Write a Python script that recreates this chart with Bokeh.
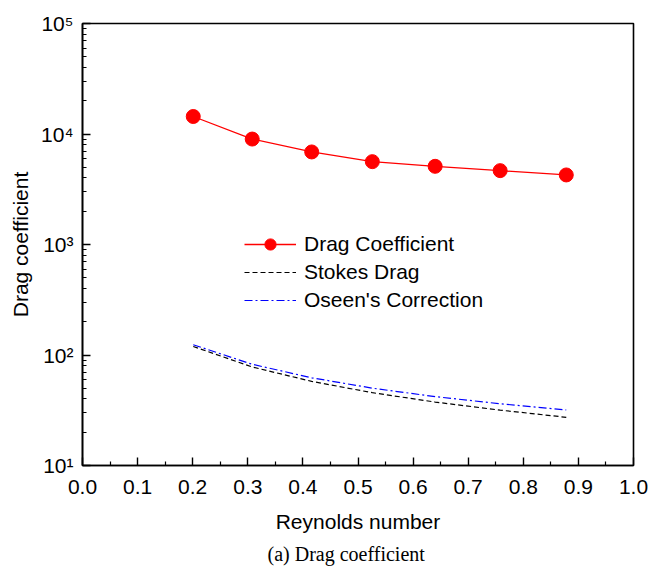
from bokeh.plotting import figure
from bokeh.models import (Range1d, FixedTicker, Legend, LegendItem, Title,
                          NumeralTickFormatter)
from bokeh.embed import file_html
from bokeh.resources import INLINE

# Reynolds numbers of the computed cases
reynolds = [0.201, 0.308, 0.416, 0.526, 0.640, 0.758, 0.878]
# Computed drag coefficient
drag_coeff = [14400, 9000, 6880, 5620, 5100, 4660, 4260]
# Stokes drag at the same Reynolds numbers
stokes = [119.4, 77.9, 57.7, 45.6, 37.5, 31.7, 27.3]
# Oseen's correction at the same Reynolds numbers
oseen = [123.9, 82.4, 62.2, 50.1, 42.0, 36.2, 31.8]

x_ticks = [0.0, 0.1, 0.2, 0.3, 0.4, 0.5, 0.6, 0.7, 0.8, 0.9, 1.0]
y_ticks = [10, 100, 1000, 10000, 100000]
y_tick_labels = ["10¹", "10²", "10³", "10⁴", "10⁵"]

FONT = "Liberation Sans"
FS = "21px"

p = figure(width=650, height=570, output_backend="svg", toolbar_location=None,
           y_axis_type="log",
           x_range=Range1d(0.0, 1.0), y_range=Range1d(10, 100000),
           min_border_left=82, min_border_right=17,
           min_border_top=23, min_border_bottom=105)

p.background_fill_color = "white"
p.border_fill_color = "white"
p.outline_line_color = "black"
p.outline_line_width = 1.6
p.xgrid.visible = False
p.ygrid.visible = False

# x axis
minor_x = [round(0.05 + 0.1 * i, 2) for i in range(10)]
p.xaxis.ticker = FixedTicker(ticks=x_ticks, minor_ticks=minor_x)
p.xaxis.formatter = NumeralTickFormatter(format="0.0")
p.xaxis.axis_label = "Reynolds number"

# y axis: decades labelled as powers of ten
minor_y = [m * d for d in y_ticks[:-1] for m in range(2, 10)]
p.yaxis.ticker = FixedTicker(ticks=y_ticks, minor_ticks=minor_y)
p.yaxis.major_label_overrides = {t: lab for t, lab in zip(y_ticks, y_tick_labels)}
p.yaxis.axis_label = "Drag coefficient"

for ax in (p.xaxis[0], p.yaxis[0]):
    ax.axis_line_width = 1.6
    ax.axis_line_color = "black"
    ax.major_tick_in = 8
    ax.major_tick_out = 0
    ax.minor_tick_in = 4
    ax.minor_tick_out = 0
    ax.major_tick_line_width = 1.4
    ax.minor_tick_line_width = 1.2
    ax.major_label_text_font = FONT
    ax.major_label_text_font_size = FS
    ax.major_label_text_color = "black"
    ax.axis_label_text_font = FONT
    ax.axis_label_text_font_size = FS
    ax.axis_label_text_font_style = "normal"
    ax.axis_label_text_color = "black"

p.xaxis.major_label_standoff = 14
p.xaxis.axis_label_standoff = 13
p.yaxis.major_label_standoff = 9
p.yaxis.axis_label_standoff = 6

# series
r_line = p.line(reynolds, drag_coeff, line_color="red", line_width=1.3)
r_pts = p.scatter(reynolds, drag_coeff, size=14, fill_color="red", line_color="red")
r_stokes = p.line(reynolds, stokes, line_color="black", line_width=1.2, line_dash="5 3")
r_oseen = p.line(reynolds, oseen, line_color="blue", line_width=1.2, line_dash="8 3 2 3")

legend = Legend(items=[
    LegendItem(label="Drag Coefficient", renderers=[r_line, r_pts]),
    LegendItem(label="Stokes Drag", renderers=[r_stokes]),
    LegendItem(label="Oseen's Correction", renderers=[r_oseen]),
], location=(162, 151))
legend.border_line_color = None
legend.background_fill_alpha = 0
legend.padding = 0
legend.margin = 0
legend.spacing = 0
legend.glyph_width = 52
legend.glyph_height = 28
legend.label_height = 21
legend.label_standoff = 8
legend.label_text_font = FONT
legend.label_text_font_size = FS
legend.label_text_color = "black"
p.add_layout(legend, "center")

caption = Title(text="(a) Drag coefficient", align="left", offset=185,
                standoff=11, text_font="Liberation Serif", text_font_size="20px",
                text_font_style="normal", text_color="black")
p.add_layout(caption, "below")

open("out.html", "w").write(file_html(p, INLINE))
